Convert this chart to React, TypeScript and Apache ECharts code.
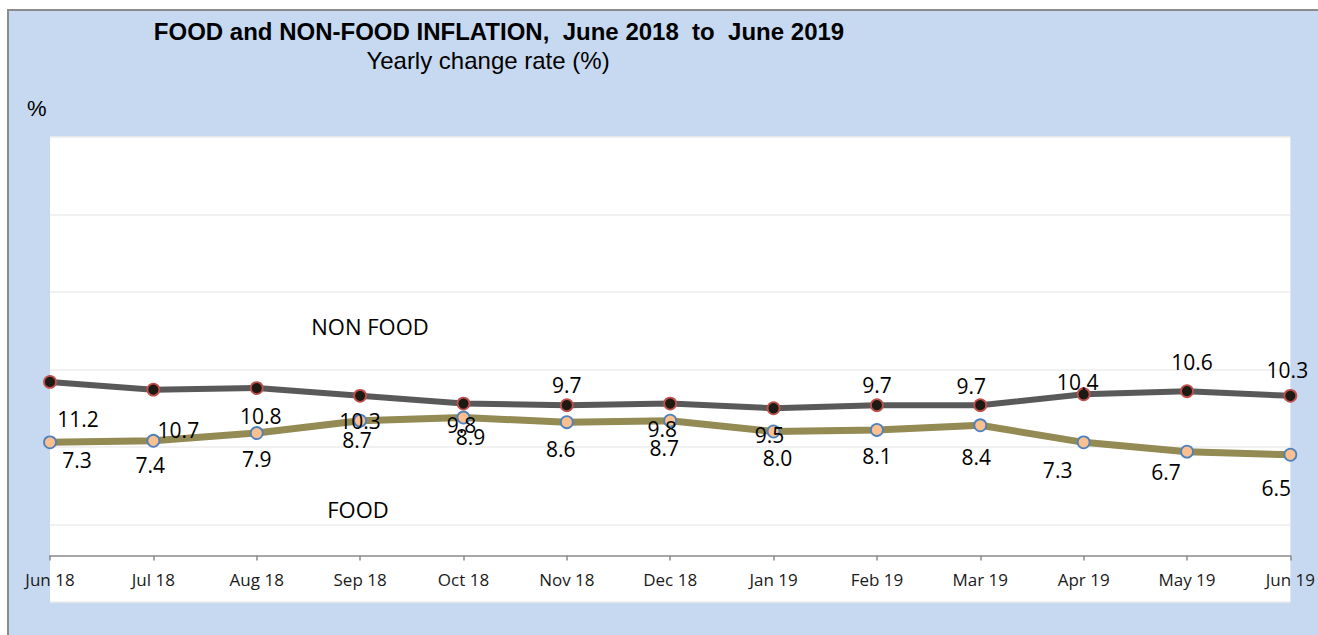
import React, { useEffect, useRef } from "react";
import * as echarts from "echarts";

const months = ["Jun 18", "Jul 18", "Aug 18", "Sep 18", "Oct 18", "Nov 18", "Dec 18", "Jan 19", "Feb 19", "Mar 19", "Apr 19", "May 19", "Jun 19"];
const nonFood = [11.2, 10.7, 10.8, 10.3, 9.8, 9.7, 9.8, 9.5, 9.7, 9.7, 10.4, 10.6, 10.3];
const food = [7.3, 7.4, 7.9, 8.7, 8.9, 8.6, 8.7, 8.0, 8.1, 8.4, 7.3, 6.7, 6.5];

// label offsets (style only)
const nonFoodLabelOffsets = [[28, 37], [25, 40], [4, 28], [0, 25], [-2, 21], [0, -20], [-8, 25], [-4, 27], [0, -20], [-9, -19], [-6, -12], [5, -29], [-3, -26]];
const foodLabelOffsets = [[27, 18], [-3, 24], [0, 26], [-3, 19], [7, 19], [-6, 27], [-6, 27], [4, 26], [0, 26], [-4, 32], [-26, 28], [-21, 20], [-14, 33]];

const LABEL_FONT = "'Open Sans', sans-serif";

export default function App() {
  const ref = useRef<HTMLDivElement>(null);
  useEffect(() => {
    if (!ref.current) return;
    const chart = echarts.init(ref.current, null, { renderer: "svg" });
    const mkData = (vals: number[], offs: number[][]) =>
      vals.map((v, i) => ({
        value: v,
        label: { offset: offs[i] },
      }));
    chart.setOption({
      animation: false,
      backgroundColor: "#c6d9f0",
      graphic: [
        { type: "rect", shape: { x: 0, y: 0, width: 1318, height: 9 }, style: { fill: "#ffffff" }, silent: true },
        { type: "rect", shape: { x: 0, y: 0, width: 7, height: 635 }, style: { fill: "#ffffff" }, silent: true },
        { type: "line", shape: { x1: 8, y1: 10, x2: 1318, y2: 10 }, style: { stroke: "#8c8c8c", lineWidth: 2 }, silent: true },
        { type: "line", shape: { x1: 8, y1: 9, x2: 8, y2: 635 }, style: { stroke: "#8c8c8c", lineWidth: 2 }, silent: true },
        {
          type: "text", x: 499, y: 31,
          style: { text: "FOOD and NON-FOOD INFLATION,  June 2018  to  June 2019", fill: "#000", font: "bold 24px 'Liberation Sans', Arial, sans-serif", align: "center", verticalAlign: "middle" },
        },
        {
          type: "text", x: 488, y: 60,
          style: { text: "Yearly change rate (%)", fill: "#000", font: "24px 'Liberation Sans', Arial, sans-serif", align: "center", verticalAlign: "middle" },
        },
        {
          type: "text", x: 27, y: 108,
          style: { text: "%", fill: "#000", font: "22px 'Liberation Sans', Arial, sans-serif", align: "left", verticalAlign: "middle" },
        },
        {
          type: "text", x: 370, y: 326, z: 10,
          style: { text: "NON FOOD", fill: "#000", font: "22px " + LABEL_FONT, align: "center", verticalAlign: "middle" },
        },
        {
          type: "text", x: 358, y: 509, z: 10,
          style: { text: "FOOD", fill: "#000", font: "22px " + LABEL_FONT, align: "center", verticalAlign: "middle" },
        },
      ],
      grid: {
        left: 50, right: 26, top: 137, bottom: 33,
        show: true, backgroundColor: "#ffffff", borderWidth: 0,
        containLabel: false,
      },
      xAxis: {
        type: "category",
        data: months,
        boundaryGap: false,
        axisLine: { onZero: true, lineStyle: { color: "#8a8a8a", width: 1.5 } },
        axisTick: { show: true, length: 5, lineStyle: { color: "#8a8a8a", width: 1.5 } },
        axisLabel: { color: "#1a1a1a", fontSize: 17, fontFamily: LABEL_FONT, margin: -31 },
        splitLine: { show: false },
      },
      yAxis: {
        type: "value",
        min: -3, max: 27, interval: 5,
        axisLine: { show: false },
        axisTick: { show: false },
        axisLabel: { show: false },
        splitLine: { show: true, lineStyle: { color: "#ececec", width: 1.5 } },
      },
      series: [
        {
          name: "NON FOOD",
          type: "line",
          data: mkData(nonFood, nonFoodLabelOffsets),
          lineStyle: { color: "#595959", width: 6 },
          symbol: "circle",
          symbolSize: 12,
          itemStyle: { color: "#1c1a12", borderColor: "#c0504d", borderWidth: 1.8 },
          label: { show: true, position: "inside", color: "#000", fontSize: 21, fontFamily: LABEL_FONT, formatter: (p: any) => p.value.toFixed(1) },
          z: 3,
        },
        {
          name: "FOOD",
          type: "line",
          data: mkData(food, foodLabelOffsets),
          lineStyle: { color: "#948a54", width: 7 },
          symbol: "circle",
          symbolSize: 12,
          itemStyle: { color: "#fac090", borderColor: "#4f81bd", borderWidth: 1.8 },
          label: { show: true, position: "inside", color: "#000", fontSize: 21, fontFamily: LABEL_FONT, formatter: (p: any) => p.value.toFixed(1) },
          z: 3,
        },
      ],
    });
    return () => chart.dispose();
  }, []);
  return (
    <div style={{ position: "fixed", left: 0, top: 0, width: 1318, height: 635, background: "#fff" }}>
      <div ref={ref} style={{ width: 1318, height: 635 }} />
    </div>
  );
}
